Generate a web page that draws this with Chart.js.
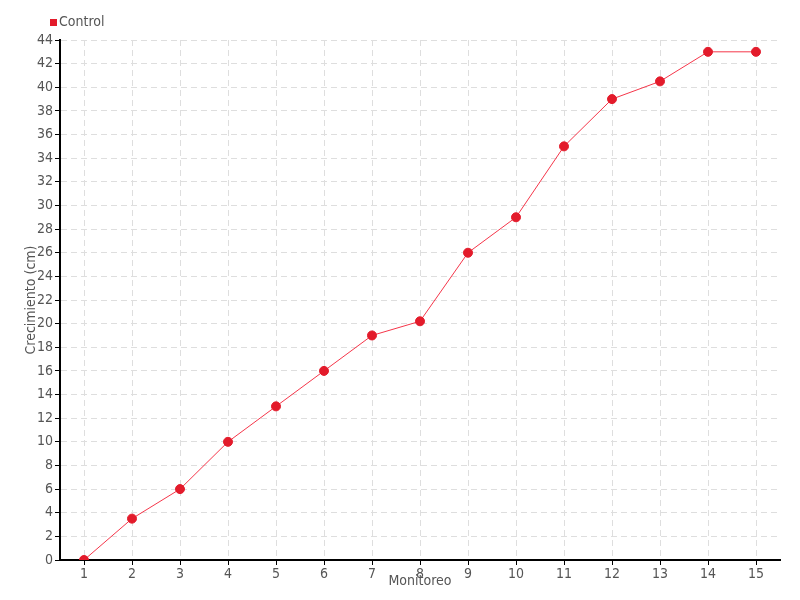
<!DOCTYPE html>
<html>
<head>
<meta charset="utf-8">
<script src="https://cdn.jsdelivr.net/npm/chart.js@4"></script>
<style>
  html, body { margin: 0; padding: 0; background: #fff; }
  #wrap { width: 800px; height: 600px; }
</style>
</head>
<body>
<div id="wrap"><canvas id="chart" width="800" height="600"></canvas></div>
<script>
// Data
const monitoreo = ['1', '2', '3', '4', '5', '6', '7', '8', '9', '10', '11', '12', '13', '14', '15'];
const controlValues = [0, 3.5, 6, 10, 13, 16, 19, 20.2, 26, 29, 35, 39, 40.5, 43, 43];
const seriesName = 'Control';

const fontFamily = "'Liberation Sans Narrow', 'DejaVu Sans Condensed', sans-serif";
const textColor = '#555';
const pointColor = '#e31b2b';
const lineColor = '#f5364a';

// Legend drawn by hand so it sits at the top-left like the original
const legendPlugin = {
    id: 'cornerLegend',
    afterDraw(chart) {
        const ctx = chart.ctx;
        const ds = chart.data.datasets[0];
        ctx.save();
        ctx.fillStyle = ds.pointBackgroundColor;
        ctx.fillRect(50, 19, 7, 7);
        ctx.fillStyle = textColor;
        ctx.font = '14px ' + fontFamily;
        ctx.textBaseline = 'middle';
        ctx.fillText(ds.label, 59, 22);
        ctx.restore();
    }
};

const ctx = document.getElementById('chart').getContext('2d');
const chart = new Chart(ctx, {
    type: 'line',
    data: {
        labels: monitoreo,
        datasets: [{
            label: seriesName,
            data: controlValues,
            borderColor: lineColor,
            borderWidth: 1,
            pointBackgroundColor: pointColor,
            pointBorderColor: pointColor,
            pointRadius: 4.5,
            pointBorderWidth: 1,
            tension: 0,
            fill: false
        }]
    },
    options: {
        responsive: false,
        animation: false,
        layout: {
            padding: { top: 40, right: 20, left: 0, bottom: 0 }
        },
        plugins: {
            legend: { display: false },
            tooltip: { enabled: false }
        },
        scales: {
            x: {
                type: 'category',
                offset: true,
                grid: {
                    color: '#dedede',
                    tickColor: '#000',
                    tickLength: 5,
                    offset: false
                },
                border: { color: '#000', width: 2, dash: [6, 4] },
                ticks: {
                    color: textColor,
                    font: { family: fontFamily, size: 14 },
                    padding: 1,
                    maxRotation: 0
                },
                title: {
                    display: true,
                    text: 'Monitoreo',
                    color: textColor,
                    font: { family: fontFamily, size: 14 },
                    padding: { top: 0, bottom: 10 }
                },
                afterFit(scale) { scale.height = 40; }
            },
            y: {
                min: 0,
                max: 44,
                grid: {
                    color: '#dedede',
                    tickColor: '#000',
                    tickLength: 5
                },
                border: { color: '#000', width: 2, dash: [6, 4] },
                ticks: {
                    stepSize: 2,
                    color: textColor,
                    font: { family: fontFamily, size: 14 },
                    padding: 2
                },
                title: {
                    display: true,
                    text: 'Crecimiento (cm)',
                    color: textColor,
                    font: { family: fontFamily, size: 14 },
                    padding: { top: 23, bottom: 0 }
                },
                afterFit(scale) { scale.width = 60; }
            }
        }
    },
    plugins: [legendPlugin]
});
</script>
</body>
</html>
